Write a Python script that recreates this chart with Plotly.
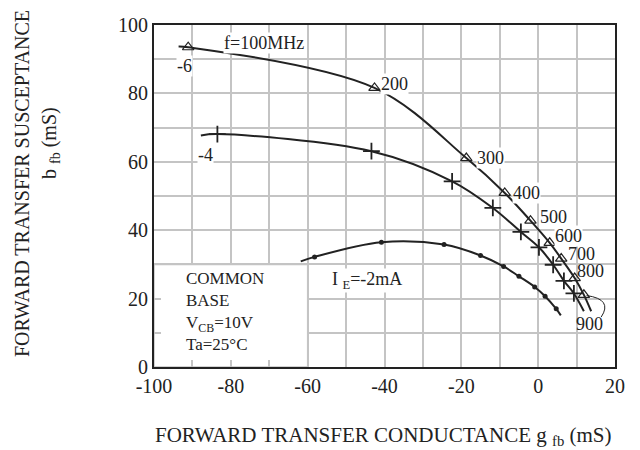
import plotly.graph_objects as go

# ---- data (g_fb, b_fb in mS) ----
# IE = -6 mA (triangles), first/last entries are the curve ends without marker
g_ie6 = [-93.6, -91.1, -42.6, -18.7, -8.7, -2.0, 3.0, 6.0, 9.5, 11.9, 13.8]
b_ie6 = [93.7, 93.5, 81.6, 61.1, 50.9, 42.8, 36.3, 31.7, 26.0, 21.1, 16.3]
# IE = -4 mA (plus markers)
g_ie4 = [-87.8, -83.5, -43.4, -22.4, -11.8, -4.5, 0.2, 3.9, 6.7, 9.3, 11.9]
b_ie4 = [67.7, 68.1, 63.1, 54.3, 46.5, 39.5, 35.0, 29.9, 25.2, 21.5, 16.3]
# IE = -2 mA (dots)
g_ie2 = [-61.8, -58.2, -40.8, -24.5, -15.0, -9.0, -5.0, -0.9, 1.8, 4.7, 5.9]
b_ie2 = [30.9, 32.2, 36.5, 35.8, 32.6, 29.4, 26.5, 23.4, 20.7, 17.0, 15.1]

freq_labels = ["f=100MHz", "200", "300", "400", "500", "600", "700", "800", "900"]
x_ticks = [-100, -90, -80, -70, -60, -50, -40, -30, -20, -10, 0, 10, 20]
x_ticktext = ["-100", "", "-80", "", "-60", "", "-40", "", "-20", "", "0", "", "20"]
y_ticks = [0, 10, 20, 30, 40, 50, 60, 70, 80, 90, 100]
y_ticktext = ["0", "", "20", "", "40", "", "60", "", "80", "", "100"]

FONT = "Liberation Serif, Times New Roman, serif"
INK = "#222222"
GRID = "#c4c4c4"

fig = go.Figure()

def add_curve(g, b, symbol, size, lw):
    fig.add_trace(go.Scatter(x=g, y=b, mode="lines",
                             line=dict(color=INK, width=2, shape="spline", smoothing=1.0),
                             hoverinfo="skip", showlegend=False))
    fig.add_trace(go.Scatter(x=g[1:-1], y=b[1:-1], mode="markers",
                             marker=dict(symbol=symbol, size=size, color=INK,
                                         line=dict(color=INK, width=lw)),
                             showlegend=False))

add_curve(g_ie6, b_ie6, "triangle-up-open", 10, 1.2)
add_curve(g_ie4, b_ie4, "cross-thin-open", 12, 1.8)
add_curve(g_ie2, b_ie2, "circle", 5, 0)

# white box for conditions (hides the grid under it)
fig.add_shape(type="rect", x0=-100, x1=-60, y0=0, y1=30, xref="x", yref="y",
              fillcolor="white", line=dict(color=GRID, width=1.5), layer="between")

# leader for the 900 label
fig.add_shape(type="path", path="M 12.6,20.9 Q 19.5,19.8 16.4,14.6",
              line=dict(color=INK, width=1), layer="above")

ann = []
def lab(x, y, text, xa="left", size=18, bg="white"):
    ann.append(dict(x=x, y=y, xref="x", yref="y", text=text, showarrow=False,
                    xanchor=xa, yanchor="middle", bgcolor=bg, borderpad=0,
                    font=dict(family=FONT, size=size, color=INK)))

lab(-71.4, 94.7, freq_labels[0], xa="center")
lab(-41.2, 82.7, freq_labels[1])
lab(-16.3, 61.1, freq_labels[2])
lab(-6.8, 50.9, freq_labels[3])
lab(0.2, 43.9, freq_labels[4])
lab(4.1, 38.3, freq_labels[5])
lab(7.5, 32.9, freq_labels[6], bg="rgba(0,0,0,0)")
lab(9.8, 28.0, freq_labels[7], bg="rgba(0,0,0,0)")
lab(9.6, 12.6, freq_labels[8], bg="rgba(0,0,0,0)")
lab(-92.0, 87.9, "-6", xa="center")
lab(-86.6, 62.1, "-4", xa="center")
lab(-53.8, 25.2, "I <sub>E</sub>=-2mA")

ann.append(dict(x=-92.2, y=16.1, xref="x", yref="y",
                text="COMMON<br>BASE<br>V<sub>CB</sub>=10V<br>Ta=25°C",
                showarrow=False, xanchor="left", yanchor="middle", align="left",
                font=dict(family=FONT, size=17, color=INK)))

ann.append(dict(x=0.497, y=-0.202, xref="paper", yref="paper",
                text="FORWARD TRANSFER CONDUCTANCE g <sub>fb</sub> (mS)",
                showarrow=False, xanchor="center", yanchor="middle",
                font=dict(family=FONT, size=21, color=INK)))
ann.append(dict(x=(14 - 146) / 461, y=(359 - 176) / 342, xref="paper", yref="paper",
                text="FORWARD TRANSFER SUSCEPTANCE", textangle=-90,
                showarrow=False, xanchor="center", yanchor="middle",
                font=dict(family=FONT, size=20, color=INK)))
ann.append(dict(x=(42 - 146) / 461, y=(359 - 135) / 342, xref="paper", yref="paper",
                text="b <sub>fb</sub> (mS)", textangle=-90,
                showarrow=False, xanchor="center", yanchor="middle",
                font=dict(family=FONT, size=20, color=INK)))

axis_common = dict(showline=True, linecolor=INK, linewidth=2, mirror=True,
                   showgrid=True, gridcolor=GRID, gridwidth=1.5, zeroline=False,
                   ticks="inside", ticklen=7, tickcolor=GRID, tickwidth=1.5,
                   tickfont=dict(family=FONT, size=20, color=INK),
                   automargin=False)

fig.update_xaxes(range=[-100, 20], tickmode="array", tickvals=x_ticks,
                 ticktext=x_ticktext, **axis_common)
fig.update_yaxes(range=[0, 100], tickmode="array", tickvals=y_ticks,
                 ticktext=y_ticktext, **axis_common)

fig.update_layout(template="none", width=640, height=450,
                  margin=dict(l=146, r=33, t=17, b=91),
                  paper_bgcolor="white", plot_bgcolor="white",
                  annotations=ann, showlegend=False,
                  font=dict(family=FONT, color=INK))

fig.write_html("out.html")
